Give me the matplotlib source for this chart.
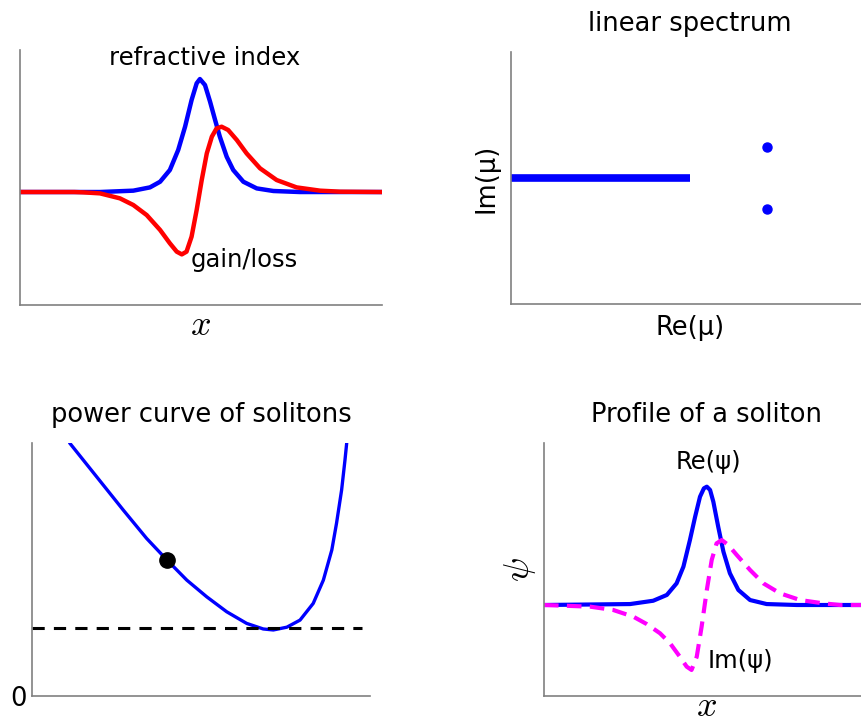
import matplotlib
matplotlib.use("Agg")
import matplotlib.pyplot as plt

plt.rcParams['font.family'] = ['DejaVu Sans']
plt.rcParams['mathtext.fontset'] = 'cm'

# panel 1: refractive index / gain-loss profile
x_ref = [0, 2.21, 3.13, 3.59, 3.87, 4.14, 4.37, 4.56, 4.74, 4.88, 4.97, 5.11,
         5.25, 5.39, 5.52, 5.71, 5.89, 6.17, 6.54, 7.0, 7.73, 10]
y_ref = [0, 0, 0.012, 0.041, 0.091, 0.195, 0.372, 0.578, 0.814, 0.962, 1.0, 0.947,
         0.80, 0.637, 0.49, 0.312, 0.195, 0.091, 0.032, 0.009, 0, 0]
x_gain = [0, 1.5, 1.75, 2.21, 2.76, 3.13, 3.50, 3.87, 4.14, 4.33, 4.47, 4.60, 4.74,
          4.88, 5.02, 5.16, 5.30, 5.43, 5.57, 5.75, 5.99, 6.26, 6.63, 7.09, 7.64,
          8.29, 8.84, 10]
y_gain = [0, 0, -0.003, -0.012, -0.056, -0.115, -0.204, -0.336, -0.454, -0.528, -0.552,
          -0.528, -0.395, -0.159, 0.106, 0.342, 0.49, 0.563, 0.578, 0.549, 0.46, 0.342,
          0.21, 0.106, 0.041, 0.012, 0.003, 0]

# panel 2: linear spectrum
cont_re = [0, 5.0]
cont_im = [0, 0]
disc_re = [7.14, 7.14]
disc_im = [0.245, -0.245]

# panel 3: power curve
mu_pc = [0.95, 1.12, 1.91, 2.70, 3.39, 3.99, 4.58, 5.17, 5.76, 6.35, 6.84, 7.14,
         7.54, 7.93, 8.32, 8.62, 8.87, 9.01, 9.16, 9.26, 9.31, 9.33]
P_pc = [10.5, 9.99, 8.67, 7.35, 6.23, 5.38, 4.58, 3.92, 3.33, 2.87, 2.65, 2.61,
        2.72, 3.0, 3.66, 4.58, 5.77, 6.83, 8.14, 9.33, 9.99, 10.5]
mu_dot, P_dot = 3.99, 5.38
thresh_x = [0, 9.75]
thresh_y = [2.68, 2.68]

# panel 4: soliton profile
x_re = [0, 2.65, 3.36, 3.78, 4.08, 4.29, 4.49, 4.65, 4.80, 4.92, 5.01, 5.11, 5.21,
        5.36, 5.52, 5.72, 5.98, 6.34, 6.85, 7.78, 10]
psi_re = [0, 0.008, 0.036, 0.085, 0.183, 0.324, 0.549, 0.746, 0.915, 0.986, 1.0, 0.972,
          0.873, 0.662, 0.451, 0.268, 0.127, 0.042, 0.008, 0, 0]
x_im = [0, 1.42, 2.13, 2.75, 3.16, 3.57, 3.88, 4.18, 4.39, 4.54, 4.70, 4.85, 5.01,
        5.16, 5.31, 5.47, 5.67, 5.93, 6.34, 6.75, 7.26, 7.88, 8.59, 9.11, 10]
psi_im = [0, -0.014, -0.042, -0.099, -0.161, -0.239, -0.324, -0.437, -0.521, -0.549,
          -0.437, -0.183, 0.127, 0.380, 0.521, 0.549, 0.507, 0.423, 0.296, 0.183, 0.099,
          0.042, 0.014, 0, 0]

W, H = 861, 724
fig = plt.figure(figsize=(W / 100, H / 100), dpi=100)


def make_axes(left, right, top, bottom):
    ax = fig.add_axes([left / W, 1 - bottom / H, (right - left) / W, (bottom - top) / H])
    for s in ['top', 'right']:
        ax.spines[s].set_visible(False)
    for s in ['left', 'bottom']:
        ax.spines[s].set_color('#808080')
        ax.spines[s].set_linewidth(1.2)
    ax.set_xticks([])
    ax.set_yticks([])
    return ax


title_fs = 18.5
note_fs = 17.5
math_fs = 26
line_kw = dict(solid_joinstyle='round', solid_capstyle='round')

ax1 = make_axes(20, 382, 50, 305)
ax1.plot(x_ref, y_ref, color='blue', lw=3.2, **line_kw)
ax1.plot(x_gain, y_gain, color='red', lw=3.2, **line_kw)
ax1.set_xlim(0, 10)
ax1.set_ylim(-1.0, 1.257)
ax1.text(5.11, 1.186, 'refractive index', ha='center', va='center', fontsize=note_fs)
ax1.text(4.70, -0.60, 'gain/loss', ha='left', va='center', fontsize=note_fs)
ax1.set_xlabel(r'$x$', fontsize=math_fs, labelpad=2)

ax2 = make_axes(511, 869, 52, 304)
ax2.plot(cont_re, cont_im, color='blue', lw=5.5, solid_capstyle='butt')
ax2.plot(disc_re, disc_im, 'o', color='blue', ms=6.5)
ax2.set_xlim(0, 10)
ax2.set_ylim(-1, 1)
ax2.set_title('linear spectrum', fontsize=title_fs, pad=15)
ax2.set_xlabel('Re(μ)', fontsize=title_fs, labelpad=8)
ax2.set_ylabel('Im(μ)', fontsize=title_fs, labelpad=8)

ax3 = make_axes(32, 370, 443, 696)
ax3.plot(mu_pc, P_pc, color='blue', lw=2.4, **line_kw)
ax3.plot(thresh_x, thresh_y, '--', color='black', lw=2.2, dashes=(4, 3))
ax3.plot([mu_dot], [P_dot], 'o', color='black', ms=11)
ax3.set_xlim(0, 10)
ax3.set_ylim(0, 10)
ax3.set_yticks([0])
ax3.set_yticklabels(['0'], fontsize=title_fs)
ax3.tick_params(axis='y', length=0, pad=4)
ax3.set_title('power curve of solitons', fontsize=title_fs, pad=15)

ax4 = make_axes(544, 869, 443, 696)
ax4.plot(x_re, psi_re, color='blue', lw=3, **line_kw)
ax4.plot(x_im, psi_im, '--', color='magenta', lw=3, dashes=(3.5, 2))
ax4.set_xlim(0, 10)
ax4.set_ylim(-0.769, 1.369)
ax4.text(5.05, 1.21, 'Re(ψ)', ha='center', va='center', fontsize=note_fs)
ax4.text(5.05, -0.47, 'Im(ψ)', ha='left', va='center', fontsize=note_fs)
ax4.set_title('Profile of a soliton', fontsize=title_fs, pad=15)
ax4.set_xlabel(r'$x$', fontsize=math_fs, labelpad=-5)
ax4.set_ylabel(r'$\psi$', fontsize=math_fs, labelpad=4)

fig.savefig('out.png', dpi=100)
